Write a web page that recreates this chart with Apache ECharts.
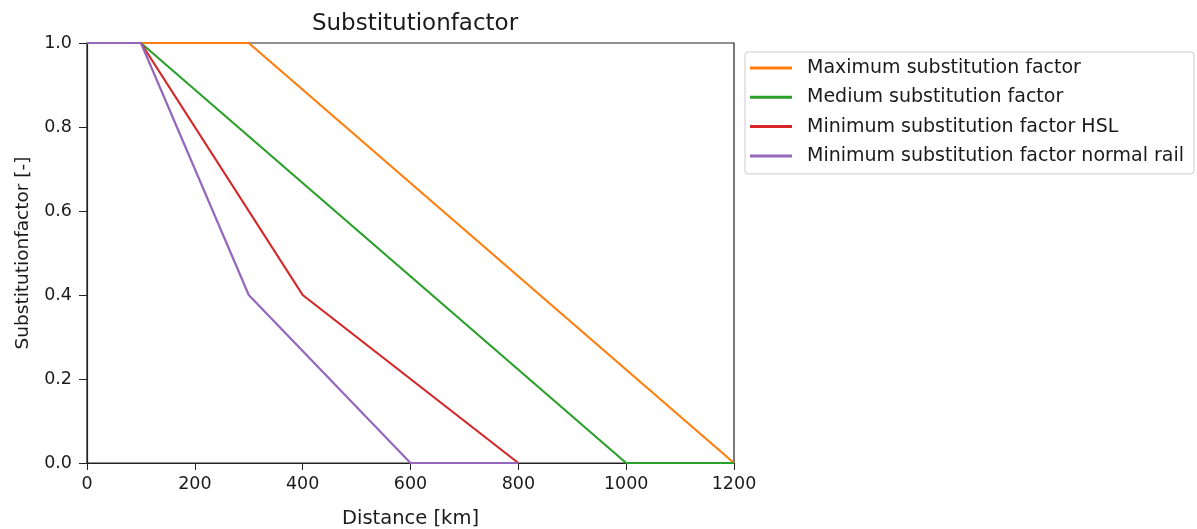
<!DOCTYPE html>
<html>
<head>
<meta charset="utf-8">
<script src="https://cdn.jsdelivr.net/npm/echarts@6/dist/echarts.min.js"></script>
<style>html,body{margin:0;padding:0;background:#fff;}#c{width:1197px;height:529px;}</style>
</head>
<body>
<div id="c"></div>
<script>
const seriesNames = ["Maximum substitution factor","Medium substitution factor","Minimum substitution factor HSL","Minimum substitution factor normal rail"];
const maxX = [0, 300, 1200];
const maxY = [1, 1, 0];
const medX = [0, 100, 1000, 1200];
const medY = [1, 1, 0, 0];
const hslX = [0, 100, 400, 800];
const hslY = [1, 1, 0.4, 0];
const railX = [0, 100, 300, 600, 800];
const railY = [1, 1, 0.4, 0, 0];
const colors = ["#ff7f0e","#2ca02c","#d62728","#9467bd"];
const xTicks = [0, 200, 400, 600, 800, 1000, 1200];
const yTicks = [0.0, 0.2, 0.4, 0.6, 0.8, 1.0];

function pairs(xs, ys){ return xs.map((x,i)=>[x, ys[i]]); }
const allX = [maxX, medX, hslX, railX];
const allY = [maxY, medY, hslY, railY];
const font = "DejaVu Sans";
const tc = "#1a1a1a";

const chart = echarts.init(document.getElementById('c'), null, {renderer:'canvas'});
chart.setOption({
  animation:false,
  backgroundColor:'#fff',
  title:{text:'Substitutionfactor', left:410, textAlign:'center', top:8,
    textStyle:{fontFamily:font, fontSize:23, fontWeight:'normal', color:tc}},
  grid:{left:87, right:463, top:43, bottom:66, show:true, borderColor:'#222', borderWidth:1.2, backgroundColor:'transparent',
    containLabel:false, outerBoundsMode:'none'},
  legend:{orient:'vertical', left:745, top:52, padding:[6,10,8,5], borderColor:'#cccccc', borderWidth:1, borderRadius:3,
    itemWidth:42, itemHeight:3, itemGap:9.3, icon:'rect',
    textStyle:{fontFamily:font, fontSize:19, color:tc, lineHeight:20, padding:[0,0,0,10]},
    data:seriesNames},
  xAxis:{type:'value', min:xTicks[0], max:xTicks[xTicks.length-1], interval:200,
    name:'Distance [km]', nameLocation:'middle', nameGap:46,
    nameTextStyle:{fontFamily:font, fontSize:19.5, color:tc},
    axisLine:{show:true, lineStyle:{color:'#222', width:1.2}},
    axisTick:{show:true, inside:false, length:7, lineStyle:{color:'#222'}},
    axisLabel:{fontFamily:font, fontSize:17.5, color:tc, margin:12, formatter:v=>String(v)},
    splitLine:{show:false}},
  yAxis:{type:'value', min:yTicks[0], max:yTicks[yTicks.length-1], interval:0.2,
    name:'Substitutionfactor [-]', nameLocation:'middle', nameGap:54,
    nameTextStyle:{fontFamily:font, fontSize:18.5, color:tc},
    axisLine:{show:true, lineStyle:{color:'#222', width:1.2}},
    axisTick:{show:true, inside:false, length:8, lineStyle:{color:'#222'}},
    axisLabel:{fontFamily:font, fontSize:17.5, color:tc, margin:15, formatter:v=>v.toFixed(1)},
    splitLine:{show:false}},
  series: seriesNames.map((n,i)=>({
    name:n, type:'line', data:pairs(allX[i], allY[i]), showSymbol:false, symbol:'none',
    lineStyle:{color:colors[i], width:2.2}, itemStyle:{color:colors[i]}, z:2+i
  }))
});
</script>
</body>
</html>
